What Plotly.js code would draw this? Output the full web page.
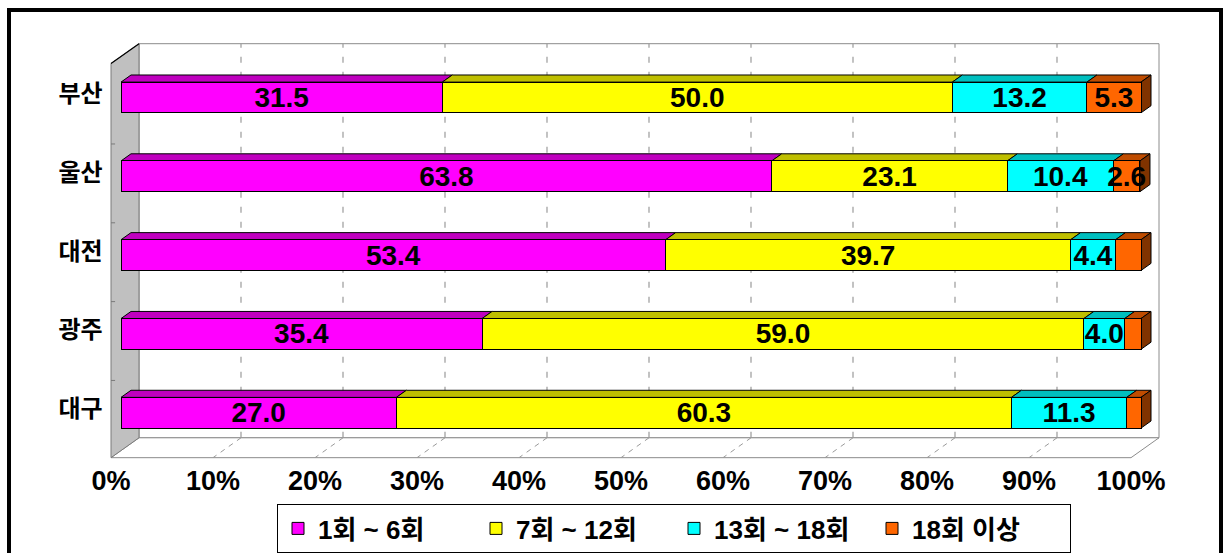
<!DOCTYPE html>
<html>
<head>
<meta charset="utf-8">
<script src="https://cdn.plot.ly/plotly-3.0.1.min.js"></script>
<style>
  html, body { margin: 0; padding: 0; background: #ffffff; }
  #chart { width: 1224px; height: 553px; }
</style>
</head>
<body>
<div id="chart"></div>
<script>
// Visit-count share by city (%), top to bottom as drawn
const cities = ['부산', '울산', '대전', '광주', '대구'];
const seriesNames = ['1회 ~ 6회', '7회 ~ 12회', '13회 ~ 18회', '18회 이상'];
const visits1to6 = [31.5, 63.8, 53.4, 35.4, 27.0];
const visits7to12 = [50.0, 23.1, 39.7, 59.0, 60.3];
const visits13to18 = [13.2, 10.4, 4.4, 4.0, 11.3];
const visits18plus = [5.3, 2.6, 2.5, 1.6, 1.4];
const labeled18plus = [true, true, false, false, false];
const xTickValues = [0, 10, 20, 30, 40, 50, 60, 70, 80, 90, 100];

// Colours: front face, top face, right end face
const frontColors = ['#FF00FF', '#FFFF00', '#00FFFF', '#FF6600'];
const topColors = ['#BF00BF', '#BFBF00', '#00BFBF', '#BF4C00'];
const sideColors = ['#800080', '#808000', '#008080', '#803300'];

// Page geometry
const W = 1224, H = 553;
const X0PX = 121, PXX = 10.2;     // pixel of 0% on the bar front plane, px per percent
const Y0PX = 415, PXY = 79.25;    // pixel of the lowest category, px per category
const XR = [-1.5, 104], YR = [-0.6, 4.8];
const DEPTH_X = 28 / PXX, DEPTH_Y = 20 / PXY;   // full floor depth in axis units
const D_BAR = 10 / 28, D_BAR_BACK = 20 / 28;     // bar front / back depth
const BAR_W = 0.39;
const FLOOR_Y = -0.48, TOP_Y = 4.52;

const LABEL_FONT = "'Liberation Sans', Arial, 'Noto Sans CJK KR', sans-serif";
const KR_FONT = "'Noto Sans CJK KR', sans-serif";

const series = [visits1to6, visits7to12, visits13to18, visits18plus];
const yPos = cities.map((c, i) => cities.length - 1 - i);

// project a point at depth d (0 = front of floor, 1 = back wall) onto the axes
function P(x, y, d) {
  return [x + (d - D_BAR) * DEPTH_X, y + (d - D_BAR) * DEPTH_Y];
}
function poly(pts) {
  return 'M' + pts.map(p => p[0] + ',' + p[1]).join('L') + 'Z';
}
function seg(a, b) {
  return 'M' + a[0] + ',' + a[1] + 'L' + b[0] + ',' + b[1];
}

const shapes = [];
// back wall
shapes.push({type: 'path', xref: 'x', yref: 'y', layer: 'below',
  path: poly([P(0, FLOOR_Y, 1), P(100, FLOOR_Y, 1), P(100, TOP_Y, 1), P(0, TOP_Y, 1)]),
  fillcolor: '#FFFFFF', line: {color: '#8C8C8C', width: 1}});
// floor
shapes.push({type: 'path', xref: 'x', yref: 'y', layer: 'below',
  path: poly([P(0, FLOOR_Y, 0), P(100, FLOOR_Y, 0), P(100, FLOOR_Y, 1), P(0, FLOOR_Y, 1)]),
  fillcolor: '#FFFFFF', line: {color: '#8C8C8C', width: 1}});
// gridlines on the back wall and across the floor
xTickValues.slice(1, -1).forEach(t => {
  shapes.push({type: 'path', xref: 'x', yref: 'y', layer: 'below',
    path: seg(P(t, FLOOR_Y, 1), P(t, TOP_Y, 1)),
    line: {color: '#9A9A9A', width: 1.2, dash: '6px,9px'}});
  shapes.push({type: 'path', xref: 'x', yref: 'y', layer: 'below',
    path: seg(P(t, FLOOR_Y, 1), P(t, FLOOR_Y, 0)),
    line: {color: '#9A9A9A', width: 1, dash: '5px,5px'}});
});
// left wall
shapes.push({type: 'path', xref: 'x', yref: 'y', layer: 'below',
  path: poly([P(0, FLOOR_Y, 0), P(0, FLOOR_Y, 1), P(0, TOP_Y, 1), P(0, TOP_Y, 0)]),
  fillcolor: '#C0C0C0', line: {color: '#7A7A7A', width: 1}});
shapes.push({type: 'path', xref: 'x', yref: 'y', layer: 'below',
  path: seg(P(0, TOP_Y, 0), P(0, TOP_Y, 1)),
  line: {color: '#000000', width: 1.2}});
// category dividers on the left wall edge
yPos.slice(0, -1).forEach(v => {
  const a = P(0, v - 0.5, 0);
  shapes.push({type: 'path', xref: 'x', yref: 'y', layer: 'below',
    path: seg(a, [a[0] + 0.4, a[1]]), line: {color: '#7A7A7A', width: 1}});
});

// top faces of every segment and the end face of each bar
yPos.forEach((yc, i) => {
  let start = 0;
  const yt = yc + BAR_W / 2, yb = yc - BAR_W / 2;
  series.forEach((vals, s) => {
    const end = start + vals[i];
    shapes.push({type: 'path', xref: 'x', yref: 'y', layer: 'between',
      path: poly([P(start, yt, D_BAR), P(end, yt, D_BAR), P(end, yt, D_BAR_BACK), P(start, yt, D_BAR_BACK)]),
      fillcolor: topColors[s], line: {color: '#000000', width: 1}});
    if (s === series.length - 1) {
      shapes.push({type: 'path', xref: 'x', yref: 'y', layer: 'between',
        path: poly([P(end, yb, D_BAR), P(end, yt, D_BAR), P(end, yt, D_BAR_BACK), P(end, yb, D_BAR_BACK)]),
        fillcolor: sideColors[s], line: {color: '#000000', width: 1}});
    }
    start = end;
  });
});

// outer frame
shapes.push({type: 'rect', xref: 'paper', yref: 'paper', layer: 'above',
  x0: 9 / W, x1: 1221 / W, y0: -0.1, y1: 1 - 10 / H,
  line: {color: '#000000', width: 4}, fillcolor: 'rgba(0,0,0,0)'});

const traces = series.map((vals, s) => ({
  type: 'bar',
  orientation: 'h',
  name: seriesNames[s],
  x: vals,
  y: yPos,
  width: BAR_W,
  marker: {color: frontColors[s], line: {color: '#000000', width: 1}},
  text: vals.map((v, i) => (s === 3 && !labeled18plus[i]) ? '' : v.toFixed(1)),
  textposition: 'inside',
  insidetextanchor: 'middle',
  textangle: 0,
  constraintext: 'none',
  cliponaxis: false,
  textfont: {family: LABEL_FONT, size: 28, color: '#000000', weight: 'bold'},
  hoverinfo: 'skip'
}));

const layout = {
  width: W, height: H,
  margin: {l: 0, r: 0, t: 0, b: 0},
  paper_bgcolor: '#FFFFFF',
  plot_bgcolor: 'rgba(0,0,0,0)',
  barmode: 'stack',
  showlegend: true,
  xaxis: {
    domain: [(X0PX + XR[0] * PXX) / W, (X0PX + XR[1] * PXX) / W],
    range: XR,
    showgrid: false, zeroline: false, showline: false, ticks: '',
    tickvals: xTickValues,
    ticktext: xTickValues.map(v => v + '%'),
    ticklabelshift: -10,
    ticklabelstandoff: 2,
    tickfont: {family: LABEL_FONT, size: 27, color: '#000000', weight: 'bold'},
    fixedrange: true
  },
  yaxis: {
    domain: [1 - (Y0PX - YR[0] * PXY) / H, 1 - (Y0PX - YR[1] * PXY) / H],
    range: YR,
    showgrid: false, zeroline: false, showline: false, ticks: '',
    tickvals: yPos,
    ticktext: cities,
    ticklabelshift: -4,
    ticklabelstandoff: 2,
    tickfont: {family: KR_FONT, size: 24, color: '#000000', weight: 'bold'},
    fixedrange: true
  },
  legend: {
    orientation: 'h',
    x: 277 / W, xanchor: 'left',
    y: 1 - 507 / H, yanchor: 'top',
    bgcolor: '#FFFFFF',
    bordercolor: '#000000', borderwidth: 1,
    traceorder: 'normal',
    entrywidth: 153,
    font: {family: LABEL_FONT, size: 26, color: '#000000', weight: 'bold'}
  },
  shapes: shapes
};

Plotly.newPlot('chart', traces, layout, {displayModeBar: false, staticPlot: true});
</script>
</body>
</html>
